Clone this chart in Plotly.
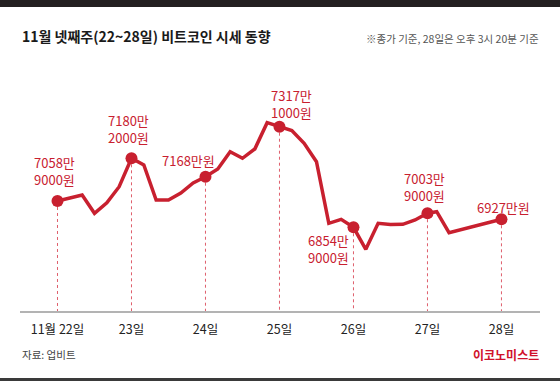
import plotly.graph_objects as go

# Hours since 22 Nov 00:00 (4-hour closes) and price in 만원 (visual levels)
hours = [0, 8, 12, 16, 20, 24, 28, 32, 36, 40, 44, 48, 52, 56, 60, 64, 68, 72,
         76, 80, 84, 88, 92, 96, 100, 104, 108, 112, 116, 120, 123, 127, 144]
prices = [7020.7, 7046.2, 6968.4, 7013.4, 7081.5, 7202.3, 7173.8, 7024.9, 7024.9,
          7054.7, 7097.2, 7124.0, 7156.8, 7230.4, 7202.3, 7241.9, 7353.8, 7336.7,
          7320.6, 7266.1, 7187.9, 6925.8, 6942.8, 6908.8, 6815.2, 6925.8, 6920.7,
          6921.6, 6939.8, 6968.4, 6975.2, 6885.8, 6942.8]

# Daily marker points
marker_hours = [0, 24, 48, 72, 96, 120, 144]
marker_prices = [7020.7, 7202.3, 7124.0, 7336.7, 6908.8, 6968.4, 6942.8]
marker_labels = ["7058만<br>9000원", "7180만<br>2000원", "7168만원", "7317만<br>1000원",
                 "6854만<br>9000원", "7003만<br>9000원", "6927만원"]
tick_labels = ["11월 22일", "23일", "24일", "25일", "26일", "27일", "28일"]

title_text = "11월 넷째주(22~28일) 비트코인 시세 동향"
note_text = "※종가 기준, 28일은 오후 3시 20분 기준"
source_text = "자료: 업비트"
brand_text = "이코노미스트"

RED = "#c8202f"
FONT = "Noto Sans CJK KR"
Y_MIN, Y_MAX = 6552.7, 7620.5

fig = go.Figure()

# dotted drop lines
for h, p in zip(marker_hours, marker_prices):
    fig.add_shape(type="line", x0=h, x1=h, y0=p, y1=Y_MIN, xref="x", yref="y",
                  line=dict(color="#df5f6c", width=1, dash="dot"), layer="below")

fig.add_trace(go.Scatter(x=hours, y=prices, mode="lines",
                         line=dict(color=RED, width=3.5), hoverinfo="skip"))
fig.add_trace(go.Scatter(x=marker_hours, y=marker_prices, mode="markers",
                         marker=dict(color=RED, size=12), hoverinfo="skip"))

# label placements (pixel offsets from marker)
placements = [
    dict(xshift=-3, yshift=10, yanchor="bottom"),
    dict(xshift=-3, yshift=9, yanchor="bottom"),
    dict(xshift=-17, yshift=16, yanchor="middle"),
    dict(xshift=12, yshift=3, yanchor="bottom"),
    dict(xshift=-25, yshift=-2, yanchor="top"),
    dict(xshift=-3, yshift=6, yanchor="bottom"),
    dict(xshift=2, yshift=12, yanchor="middle"),
]
for h, p, t, pl in zip(marker_hours, marker_prices, marker_labels, placements):
    fig.add_annotation(x=h, y=p, text=t, showarrow=False, xanchor="center",
                       font=dict(family=FONT, size=13, color=RED), **pl)

def py(pix):
    return (311 - pix) / 251

def px(pix):
    return (pix - 20) / 520

# top and bottom bars
fig.add_shape(type="rect", xref="paper", yref="paper", x0=px(0), x1=px(560),
              y0=py(7), y1=py(-2), fillcolor="#231f20", line=dict(width=0))
fig.add_shape(type="rect", xref="paper", yref="paper", x0=px(0), x1=px(560),
              y0=py(383), y1=py(378), fillcolor="#3a3a3a", line=dict(width=0))

fig.add_annotation(xref="paper", yref="paper", x=px(20), y=py(36), text="<b>" + title_text + "</b>",
                   showarrow=False, xanchor="left", yanchor="middle",
                   font=dict(family=FONT, size=14, color="#1a1a1a"))
fig.add_annotation(xref="paper", yref="paper", x=px(541), y=py(38), text=note_text,
                   showarrow=False, xanchor="right", yanchor="middle",
                   font=dict(family=FONT, size=10.5, color="#555555"))
fig.add_annotation(xref="paper", yref="paper", x=px(20), y=py(354), text=source_text,
                   showarrow=False, xanchor="left", yanchor="middle",
                   font=dict(family=FONT, size=10.5, color="#444444"))
fig.add_annotation(xref="paper", yref="paper", x=px(541), y=py(354), text="<b>" + brand_text + "</b>",
                   showarrow=False, xanchor="right", yanchor="middle",
                   font=dict(family=FONT, size=12, color="#d0112b"))

fig.update_layout(
    width=560, height=381,
    margin=dict(l=20, r=20, t=60, b=70),
    paper_bgcolor="white", plot_bgcolor="white",
    showlegend=False,
    xaxis=dict(range=[-12.16, 156.5], tickvals=marker_hours, ticktext=tick_labels,
               showgrid=False, zeroline=False, showline=True, linecolor="#b3b3b3",
               linewidth=2, ticks="outside", ticklen=6, tickcolor="rgba(0,0,0,0)",
               tickfont=dict(family=FONT, size=12.5, color="#222222"), fixedrange=True),
    yaxis=dict(range=[Y_MIN, Y_MAX], visible=False, fixedrange=True),
)

fig.write_html("out.html", config={"displayModeBar": False},
               post_script="document.body.style.margin='0';document.body.style.overflow='hidden';")
